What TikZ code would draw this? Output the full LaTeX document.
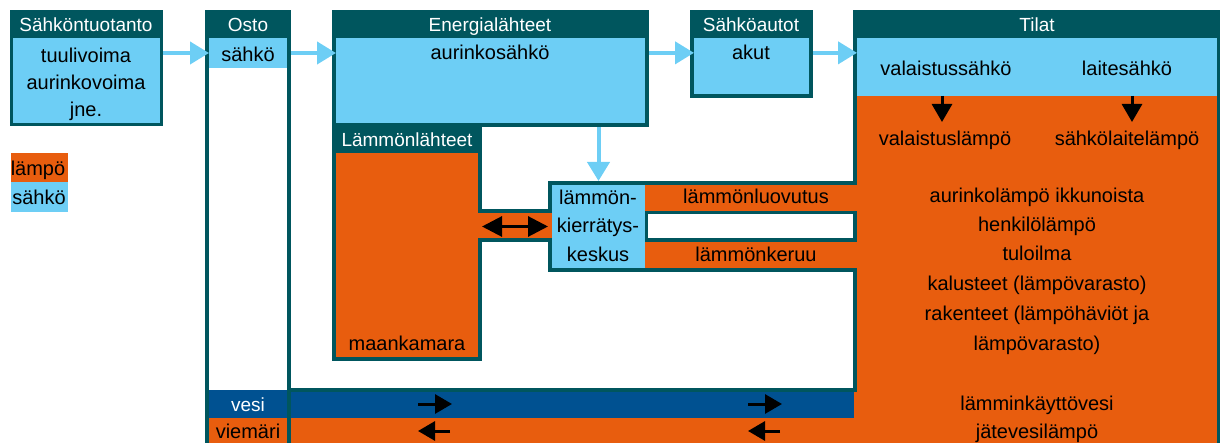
\documentclass[tikz,border=0pt]{standalone}
\usepackage{fontspec}
\setmainfont{Liberation Sans}
\usepackage{tikz}
\usetikzlibrary{arrows.meta}

\definecolor{tealc}{RGB}{0,86,94}
\definecolor{skyc}{RGB}{109,206,245}
\definecolor{heatc}{RGB}{232,93,14}
\definecolor{waterc}{RGB}{0,81,145}

\begin{document}
\begin{tikzpicture}
        [x=1pt,y=-1pt,
        every node/.style={inner sep=0pt,outer sep=0pt,font=\fontsize{20}{24}\selectfont},
        wall/.style={fill=tealc,anchor=north west},
        elfield/.style={fill=skyc,anchor=north west},
        heatfield/.style={fill=heatc,anchor=north west},
        waterfield/.style={fill=waterc,anchor=north west},
        blank/.style={fill=white,anchor=north west},
        head/.style={text=white,anchor=base,font=\fontsize{19}{23}\selectfont},
        txt/.style={text=black,anchor=base},
        elarrow/.style={draw=skyc,line width=4pt,-{Triangle[length=19pt,width=22pt]}},
        heatarrow/.style={draw=black,line width=3pt,-{Triangle[length=18pt,width=20pt]}},
        flowarrow/.style={draw=black,line width=3pt,-{Triangle[length=17pt,width=19pt]}}]
        \useasboundingbox (0,0) rectangle (1225,443);

        % walls
        \node[wall,minimum width=153,minimum height=116] (tuotF) at (10,10) {};
        \node[wall,minimum width=86,minimum height=433]  (ostoF) at (205,10) {};
        \node[wall,minimum width=317,minimum height=117] (enerF) at (332,10) {};
        \node[wall,minimum width=150,minimum height=234] (lahF)  at (332,127) {};
        \node[wall,minimum width=123,minimum height=88]  (autF)  at (690,10) {};
        \node[wall,minimum width=367,minimum height=433] (tilF)  at (853,10) {};
        \node[wall,minimum width=309,minimum height=91]  (kierF) at (548,181) {};
        \node[wall,minimum width=74,minimum height=33]   (conF)  at (478,209) {};
        \node[wall,minimum width=570,minimum height=4]   (floorF) at (287,388) {};

        % fields
        \node[elfield,minimum width=147,minimum height=85]  (tuot)   at (13,38) {};
        \node[blank,minimum width=78,minimum height=352]    (ostoB)  at (209,38) {};
        \node[elfield,minimum width=78,minimum height=30]   (osahko) at (209,38) {};
        \node[waterfield,minimum width=78,minimum height=28] (ovesi) at (209,390) {};
        \node[heatfield,minimum width=78,minimum height=25] (oviem)  at (209,418) {};
        \node[elfield,minimum width=309,minimum height=85]  (ener)   at (336,38) {};
        \node[heatfield,minimum width=142,minimum height=204] (lah)  at (336,153) {};
        \node[heatfield,minimum width=74,minimum height=25] (con)    at (478,213) {};
        \node[elfield,minimum width=115,minimum height=56]  (aut)    at (694,38) {};
        \node[elfield,minimum width=360,minimum height=58]  (tila)   at (857,38) {};
        \node[heatfield,minimum width=360,minimum height=347] (tilaH) at (857,96) {};
        \node[heatfield,minimum width=566,minimum height=51] (viem)  at (291,392) {};
        \node[waterfield,minimum width=563,minimum height=26] (vesi) at (291,392) {};
        \node[elfield,minimum width=93,minimum height=83]   (kesk)   at (552,185) {};
        \node[heatfield,minimum width=212,minimum height=26] (luov)  at (645,185) {};
        \node[heatfield,minimum width=212,minimum height=26] (keru)  at (645,242) {};
        \node[blank,minimum width=205,minimum height=24]    (aukko)  at (648,214) {};
        \node[heatfield,minimum width=57,minimum height=29] (legH)   at (11,153) {};
        \node[elfield,minimum width=57,minimum height=30]   (legE)   at (11,182) {};

        % texts
        \node[head] (tuotT) at (86,32) {Sähköntuotanto};
        \node[txt]  (tuot1) at (86,63) {tuulivoima};
        \node[txt]  (tuot2) at (86,90) {aurinkovoima};
        \node[txt]  (tuot3) at (86,117) {jne.};
        \node[head] (ostoT) at (248,32) {Osto};
        \node[txt]  (osahkoT) at (248,62) {sähkö};
        \node[head] (enerT) at (490,32) {Energialähteet};
        \node[txt]  (enerS) at (490,60) {aurinkosähkö};
        \node[head] (lahT)  at (407,147) {Lämmönlähteet};
        \node[txt]  (lahM)  at (407,350) {maankamara};
        \node[head] (autT)  at (751,32) {Sähköautot};
        \node[txt]  (akutT) at (751,60) {akut};
        \node[head] (tilT)  at (1037,32) {Tilat};
        \node[txt]  (vs)    at (946,76) {valaistussähkö};
        \node[txt]  (ls)    at (1127,76) {laitesähkö};
        \node[txt]  (vl)    at (945,146) {valaistuslämpö};
        \node[txt]  (ll)    at (1127,146) {sähkölaitelämpö};
        \node[txt]  (til1)  at (1037,203) {aurinkolämpö ikkunoista};
        \node[txt]  (til2)  at (1037,232) {henkilölämpö};
        \node[txt]  (til3)  at (1037,261) {tuloilma};
        \node[txt]  (til4)  at (1037,291) {kalusteet (lämpövarasto)};
        \node[txt]  (til5)  at (1037,320) {rakenteet (lämpöhäviöt ja};
        \node[txt]  (til6)  at (1037,350) {lämpövarasto)};
        \node[txt]  (til7)  at (1037,410) {lämminkäyttövesi};
        \node[txt]  (til8)  at (1037,438) {jätevesilämpö};
        \node[txt]  (kesk1) at (598,205) {lämmön-};
        \node[txt]  (kesk2) at (598,233) {kierrätys-};
        \node[txt]  (kesk3) at (598,262) {keskus};
        \node[txt]  (luovT) at (756,204) {lämmönluovutus};
        \node[txt]  (keruT) at (756,262) {lämmönkeruu};
        \node[head] (vesiT) at (248,411) {vesi};
        \node[txt]  (viemT) at (248,438) {viemäri};
        \node[txt]  (legHT) at (38,176) {lämpö};
        \node[txt]  (legET) at (39,205) {sähkö};

        % arrows
        \draw[elarrow] (tuotF.east |- osahko.west) -- (osahko.west);
        \draw[elarrow] (ostoF.east |- osahko.east) -- (ener.west |- osahko.east);
        \draw[elarrow] (enerF.east |- akutT) -- (aut.west |- akutT);
        \draw[elarrow] (autF.east |- akutT) -- (tila.west |- akutT);
        \draw[elarrow] (enerF.south -| kesk.north) -- (kesk.north |- kierF.north);
        \draw[draw=black,line width=3pt,{Triangle[length=20pt,width=20pt]}-{Triangle[length=20pt,width=20pt]}]
                (lahF.east |- kesk.west) -- (kierF.west |- kesk.west);

        \coordinate (va) at (942,122);
        \coordinate (la) at (1132,122);
        \draw[heatarrow] (va |- tila.south) -- (va);
        \draw[heatarrow] (la |- tila.south) -- (la);

        \foreach \x [count=\i] in {418,748}
        {
                \coordinate (vin\i)  at (\x,404);
                \coordinate (vout\i) at (\x+34,404);
                \coordinate (rin\i)  at (\x+32,431);
                \coordinate (rout\i) at (\x,431);
                \draw[flowarrow] (vin\i) -- (vout\i);
                \draw[flowarrow] (rin\i) -- (rout\i);
        }
\end{tikzpicture}
\end{document}
